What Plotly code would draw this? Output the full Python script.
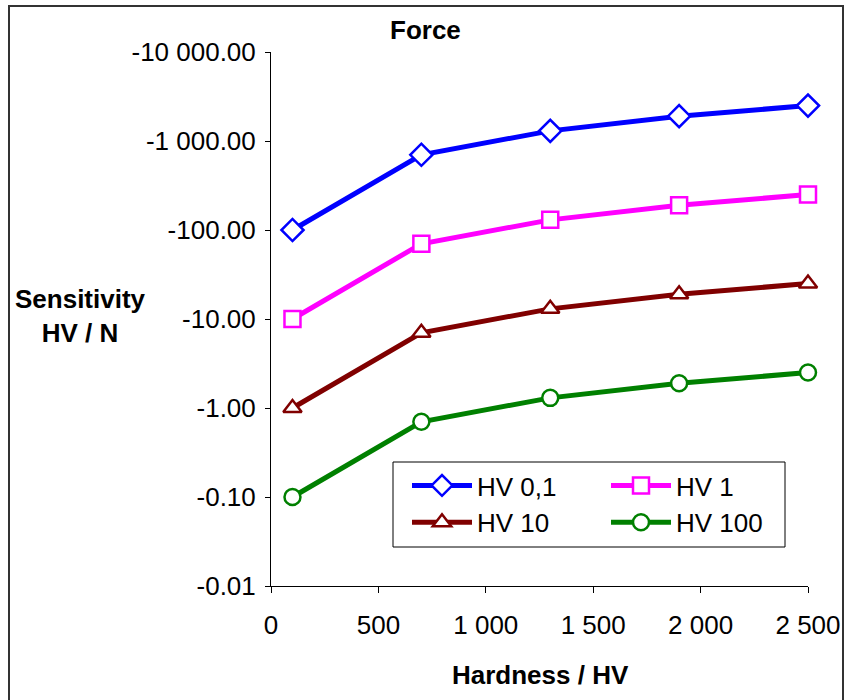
import plotly.graph_objects as go

hardness = [100, 700, 1300, 1900, 2500]
hv_01 = [100, 700, 1300, 1900, 2500]
hv_1 = [10, 70, 130, 190, 250]
hv_10 = [1, 7, 13, 19, 25]
hv_100 = [0.1, 0.7, 1.3, 1.9, 2.5]

series_names = ["HV 0,1", "HV 1", "HV 10", "HV 100"]
series_values = [hv_01, hv_1, hv_10, hv_100]
colors = ["#0000FF", "#FF00FF", "#800000", "#008000"]
symbols = ["diamond", "square", "triangle-up", "circle"]
sizes = [17, 16, 16, 16]

y_tickvals = [0.01, 0.1, 1, 10, 100, 1000, 10000]
y_ticktext = ["-0.01", "-0.10", "-1.00", "-10.00", "-100.00", "-1 000.00", "-10 000.00"]
x_tickvals = [0, 500, 1000, 1500, 2000, 2500]
x_ticktext = ["0", "500", "1 000", "1 500", "2 000", "2 500"]

FONT = "Liberation Sans, Arial, sans-serif"
FS = 26

fig = go.Figure()
for name, vals, c, s, sz in zip(series_names, series_values, colors, symbols, sizes):
    fig.add_trace(go.Scatter(
        x=hardness, y=vals, name=name, mode="lines+markers",
        line=dict(color=c, width=5),
        marker=dict(symbol=s, size=sz, color="white", line=dict(color=c, width=2.5)),
        cliponaxis=False,
    ))

W, H = 846, 700
L, R, T, B = 271, 808, 52, 586
pw, ph = R - L, B - T

def px_x(p):
    return (p - L) / pw

def px_y(p):
    return (B - p) / ph

fig.update_layout(
    width=W, height=H,
    margin=dict(l=L, r=W - R, t=T, b=H - B),
    paper_bgcolor="white", plot_bgcolor="white",
    font=dict(family=FONT, size=FS, color="black"),
    showlegend=True,
    legend=dict(
        orientation="h",
        x=px_x(407), y=px_y(462), xanchor="left", yanchor="top",
        borderwidth=0, bgcolor="rgba(0,0,0,0)",
        font=dict(family=FONT, size=FS, color="black"),
        entrywidth=124, entrywidthmode="pixels",
        itemwidth=60,
    ),
    xaxis=dict(
        range=[0, 2500], tickvals=x_tickvals, ticktext=x_ticktext,
        showgrid=False, zeroline=False, showline=True, linecolor="black", linewidth=1,
        ticks="outside", ticklen=6, tickcolor="black", ticklabelstandoff=10,
        tickfont=dict(family=FONT, size=FS), automargin=False,
    ),
    yaxis=dict(
        type="log", range=[-2, 4], tickvals=y_tickvals, ticktext=y_ticktext,
        showgrid=False, zeroline=False, showline=True, linecolor="black", linewidth=1,
        ticks="outside", ticklen=5, tickcolor="black", ticklabelstandoff=4,
        tickfont=dict(family=FONT, size=FS), automargin=False,
    ),
    annotations=[
        dict(text="<b>Force</b>", xref="paper", yref="paper", x=px_x(425), y=px_y(30),
             showarrow=False, font=dict(family=FONT, size=FS), xanchor="center", yanchor="middle"),
        dict(text="<b>Sensitivity<br>HV / N</b>", xref="paper", yref="paper", x=px_x(80), y=px_y(316),
             showarrow=False, font=dict(family=FONT, size=FS), xanchor="center", yanchor="middle",
             align="center"),
        dict(text="<b>Hardness / HV</b>", xref="paper", yref="paper", x=px_x(540), y=px_y(675),
             showarrow=False, font=dict(family=FONT, size=FS), xanchor="center", yanchor="middle"),
    ],
    shapes=[
        dict(type="rect", xref="paper", yref="paper",
             x0=px_x(9), x1=px_x(843), y0=px_y(710), y1=px_y(6),
             line=dict(color="#333333", width=2), fillcolor="rgba(0,0,0,0)", layer="below"),
        dict(type="rect", xref="paper", yref="paper",
             x0=px_x(393), x1=px_x(785), y0=px_y(547), y1=px_y(462),
             line=dict(color="black", width=1), fillcolor="white", layer="below"),
    ],
)

fig.write_html("out.html")
